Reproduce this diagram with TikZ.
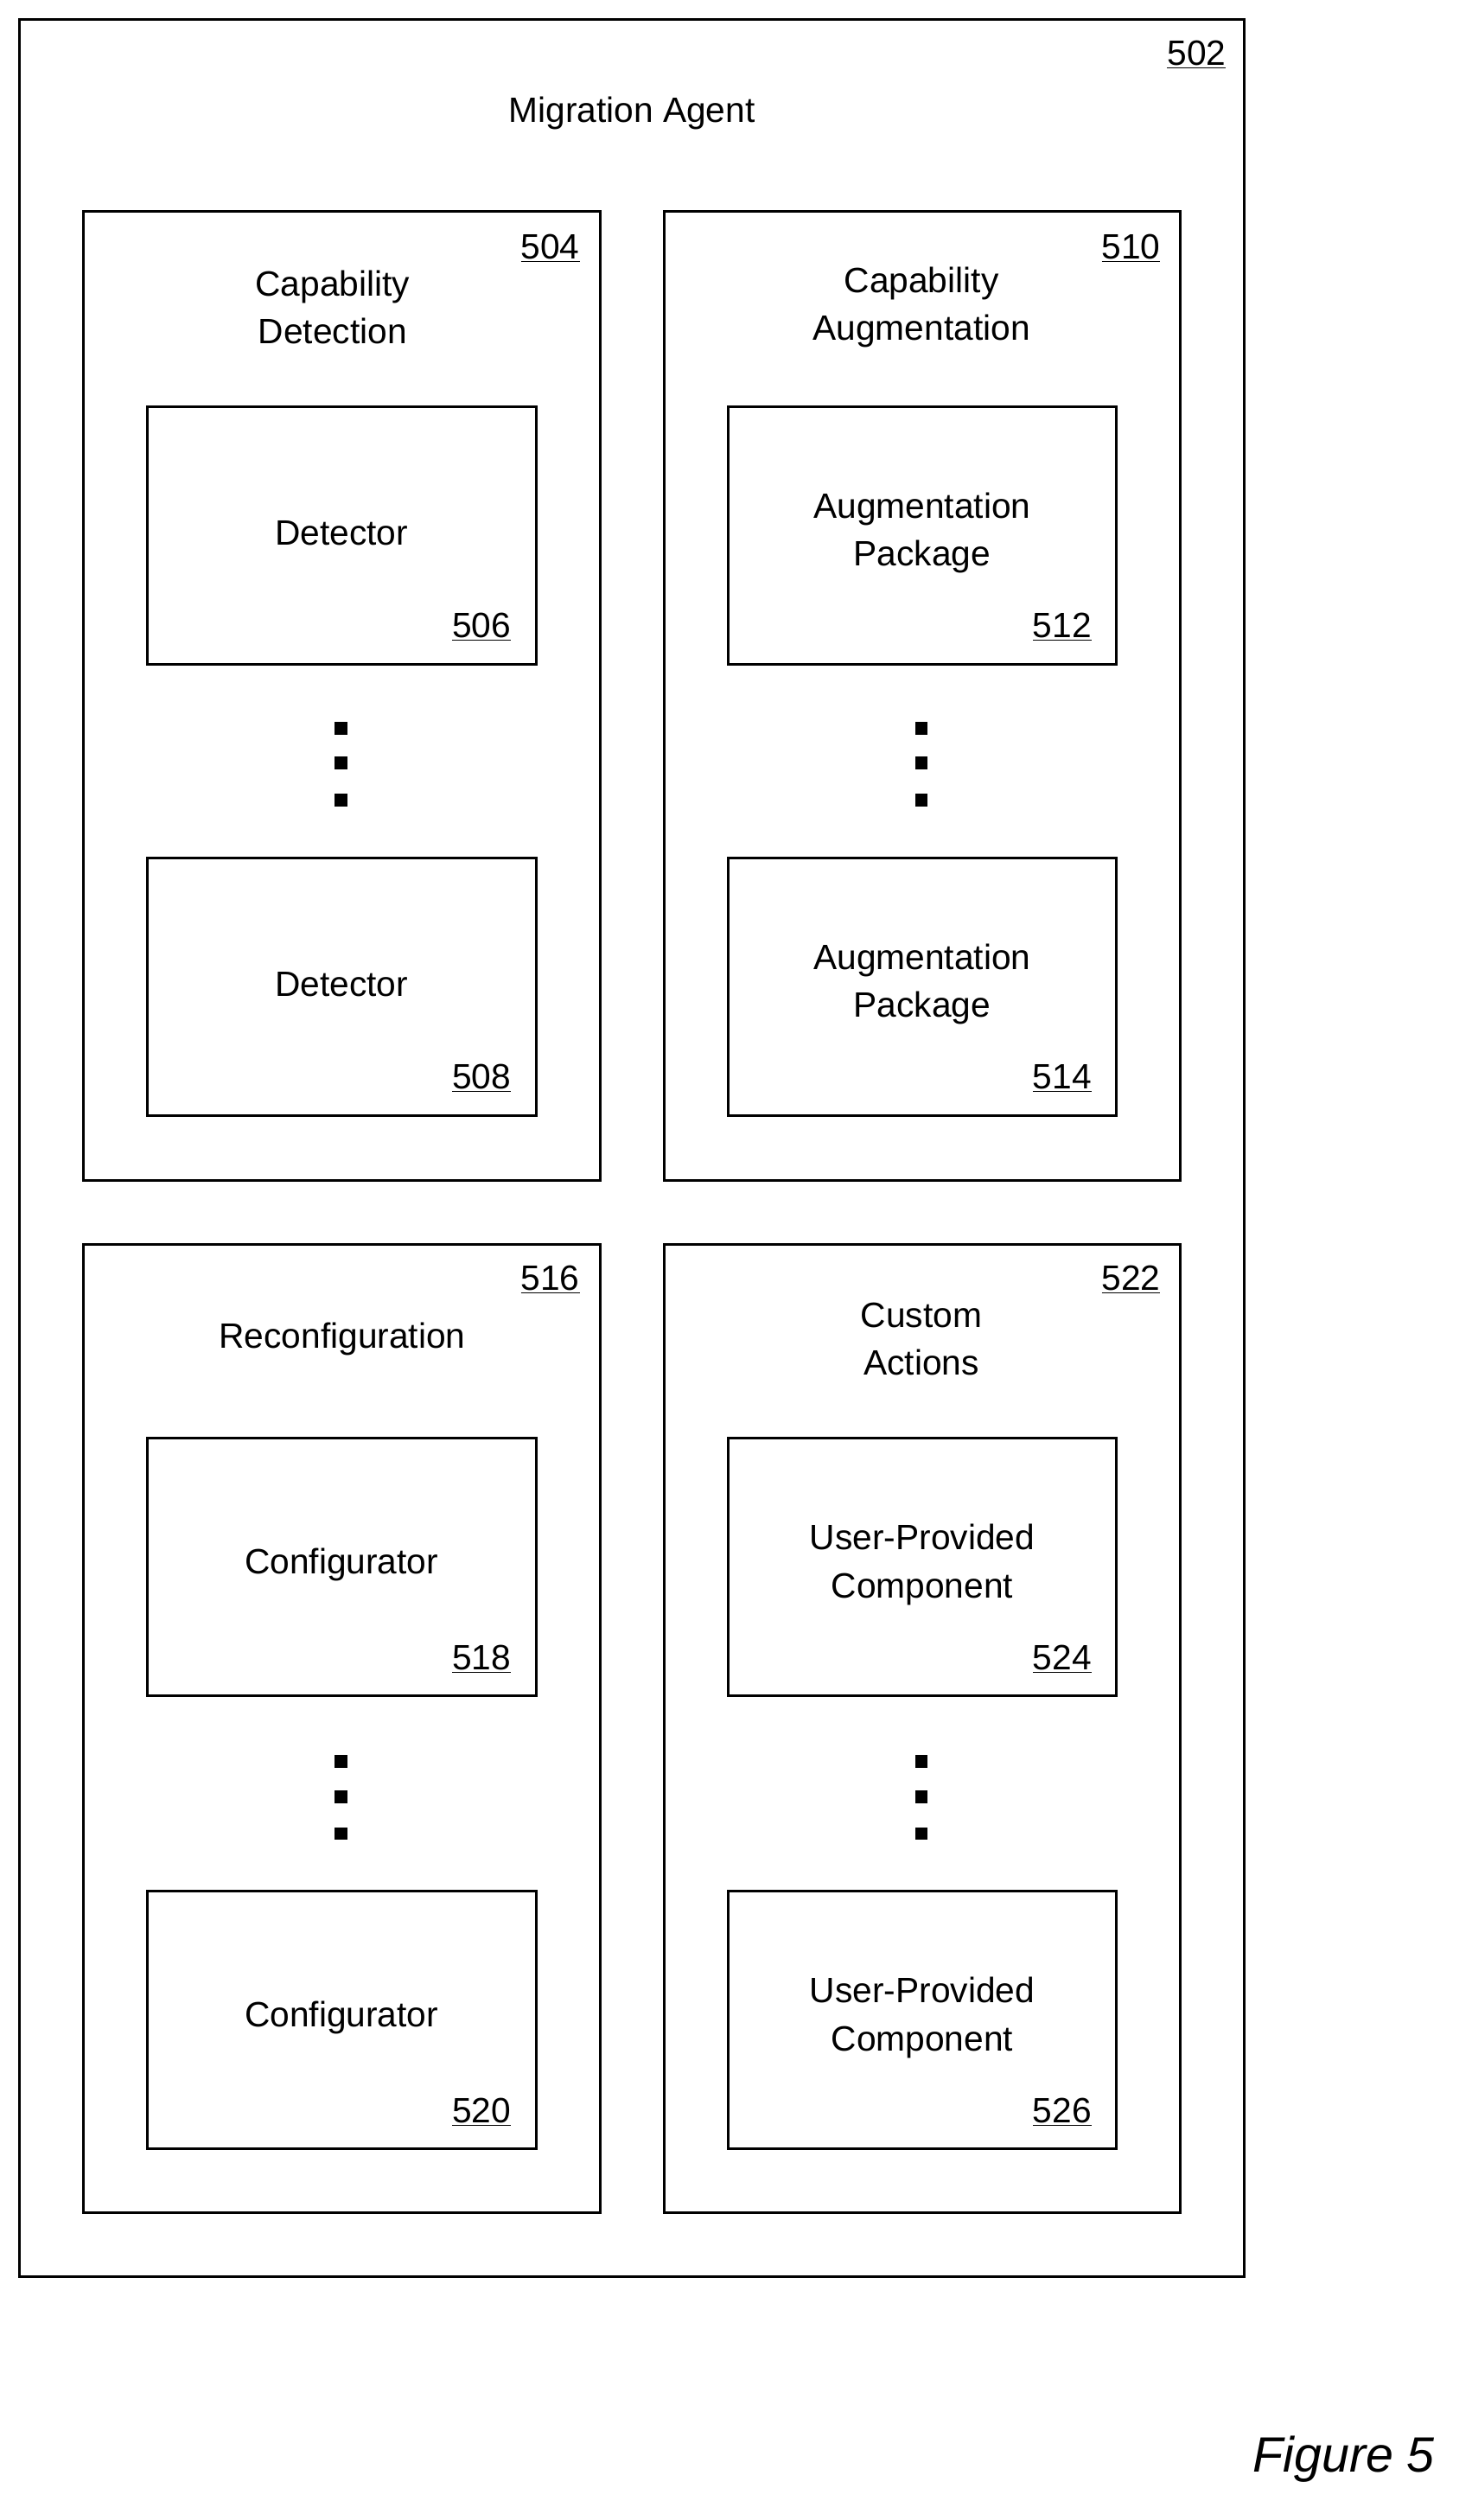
\documentclass[tikz,border=0pt]{standalone}
\usepackage{fontspec}
\setmainfont{Liberation Sans}
\begin{document}
\begin{tikzpicture}[x=1pt,y=-1pt,
  box/.style={draw,line width=1.6pt},
  t/.style={font=\fontsize{22}{30}\selectfont,align=center},
  num/.style={font=\fontsize{22}{26}\selectfont},
  dot/.style={fill,minimum size=0pt}]
\useasboundingbox (0,0) rectangle (920,1575);
\newcommand{\ul}[1]{\underline{#1}}
\draw[box] (12,12) rectangle (778,1423);
\node[t] (ma) at (395,71) {Migration Agent};
\node[num] (n502) at (748,34) {\ul{502}};
% groups
\draw[box] (52,132) rectangle (375,738);
\node[t] (cd) at (208,192) {Capability\\Detection};
\node[num] at (344,155) {\ul{504}};
\draw[box] (415,132) rectangle (738,738);
\node[t] (ca) at (576,192) {Capability\\Augmentation};
\node[num] at (707,155) {\ul{510}};
\draw[box] (52,778) rectangle (375,1383);
\node[t] (rc) at (214,837) {Reconfiguration};
\node[num] at (344,800) {\ul{516}};
\draw[box] (415,778) rectangle (738,1383);
\node[t] (cu) at (576,837) {Custom\\Actions};
\node[num] at (707,800) {\ul{522}};
% inner boxes
\foreach \x/\y/\txt/\n in {92/254/Detector/506, 92/536/Detector/508,
  455/254/Augmentation\\Package/512, 455/536/Augmentation\\Package/514,
  92/899/Configurator/518, 92/1182/Configurator/520,
  455/899/User-Provided\\Component/524, 455/1182/User-Provided\\Component/526}{
  \draw[box] (\x,\y) rectangle ++(243,161);
  \node[t] at (\x+121.5,\y+79) {\txt};
  \node[num] at (\x+209,\y+138) {\ul{\n}};
}
% dots
\foreach \x/\y in {213/455, 576/455, 213/1101, 576/1101}{
  \foreach \d in {0,22,45}{
    \fill (\x-4,\y+\d-4) rectangle (\x+4,\y+\d+4);
  }
}
\node[font=\fontsize{31}{36}\selectfont\itshape] (fig) at (840,1537) {Figure 5};
\end{tikzpicture}
\end{document}
